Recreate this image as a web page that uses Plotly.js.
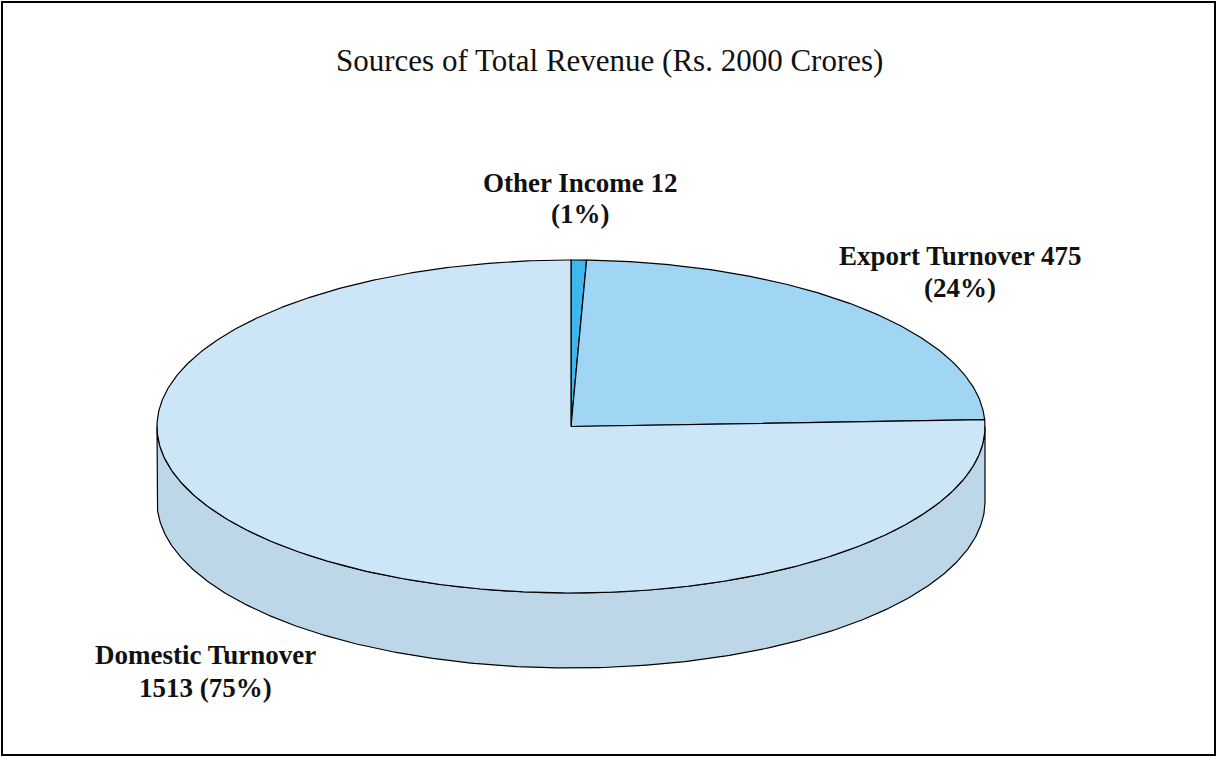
<!DOCTYPE html>
<html>
<head>
<meta charset="utf-8">
<script src="https://cdn.plot.ly/plotly-3.0.1.min.js"></script>
<style>html,body{margin:0;padding:0;background:#fff;}#chart{width:1217px;height:757px;}</style>
</head>
<body>
<div id="chart"></div>
<script>
// ---- data ----
const categories = ["Other Income", "Export Turnover", "Domestic Turnover"];
const values = [12, 475, 1513];
const percents = ["1%", "24%", "75%"];
const labelLines = [["Other Income 12", "(1%)"], ["Export Turnover 475", "(24%)"], ["Domestic Turnover", "1513 (75%)"]];
const titleText = "Sources of Total Revenue (Rs. 2000 Crores)";

// ---- style / geometry ----
const topColors = ["#3DB8EC", "#A0D5F4", "#CCE6F7"];
const sideColors = ["#2E9FD0", "#8CC0E0", "#BDD7E9"];
const CX = 571, CY = 426.5, RX = 414, RY = 166.5, DEPTH = 75;
const W = 1217, H = 757;

function pt(deg, dy) {
  const r = deg * Math.PI / 180;
  return [CX + RX * Math.sin(r), CY - RY * Math.cos(r) + (dy || 0)];
}
function arc(a0, a1, dy) {
  const n = Math.max(2, Math.ceil(Math.abs(a1 - a0) / 0.5));
  const out = [];
  for (let i = 0; i <= n; i++) out.push(pt(a0 + (a1 - a0) * i / n, dy));
  return out;
}

const total = values.reduce((a, b) => a + b, 0);
let acc = 0;
const slices = values.map(v => { const s = acc / total * 360; acc += v; return [s, acc / total * 360]; });

const traces = [];
// side walls (front half: 90..270 deg)
slices.forEach((sl, i) => {
  const a0 = Math.max(sl[0], 90), a1 = Math.min(sl[1], 270);
  if (a1 <= a0) return;
  const pts = arc(a0, a1, 0).concat(arc(a1, a0, DEPTH));
  pts.push(pts[0]);
  traces.push({
    type: "scatter", mode: "lines", x: pts.map(p => p[0]), y: pts.map(p => p[1]),
    fill: "toself", fillcolor: sideColors[i], line: {color: "#000", width: 1.2},
    hoverinfo: "skip", showlegend: false
  });
});
// top slices
slices.forEach((sl, i) => {
  const pts = [[CX, CY]].concat(arc(sl[0], sl[1], 0));
  pts.push([CX, CY]);
  traces.push({
    type: "scatter", mode: "lines", x: pts.map(p => p[0]), y: pts.map(p => p[1]),
    fill: "toself", fillcolor: topColors[i], line: {color: "#000", width: 1.2},
    hoverinfo: "skip", showlegend: false, name: categories[i]
  });
});

const labelPos = [[580, 183, 31], [960, 256, 32], [205, 655, 33]];
const annotations = [];
labelLines.forEach((lines, i) => {
  lines.forEach((t, j) => {
    annotations.push({
      x: labelPos[i][0], y: labelPos[i][1] + j * labelPos[i][2], xref: "x", yref: "y",
      text: "<b>" + t + "</b>", showarrow: false, align: "center",
      font: {family: "Liberation Serif, serif", size: 27, color: "#111"}
    });
  });
});
annotations.push({
  x: 609, y: 60, xref: "x", yref: "y", text: titleText, showarrow: false,
  font: {family: "Liberation Serif, serif", size: 31, color: "#111"}
});

const layout = {
  width: W, height: H,
  margin: {l: 0, r: 0, t: 0, b: 0},
  paper_bgcolor: "#fff", plot_bgcolor: "#fff",
  xaxis: {range: [0, W], visible: false, fixedrange: true},
  yaxis: {range: [H, 0], visible: false, fixedrange: true},
  showlegend: false,
  annotations: annotations,
  shapes: [{type: "rect", xref: "x", yref: "y", x0: 2, y0: 2, x1: 1215, y1: 755,
            line: {color: "#000", width: 2}, fillcolor: "rgba(0,0,0,0)"}]
};

Plotly.newPlot("chart", traces, layout, {staticPlot: true, displayModeBar: false});
</script>
</body>
</html>
